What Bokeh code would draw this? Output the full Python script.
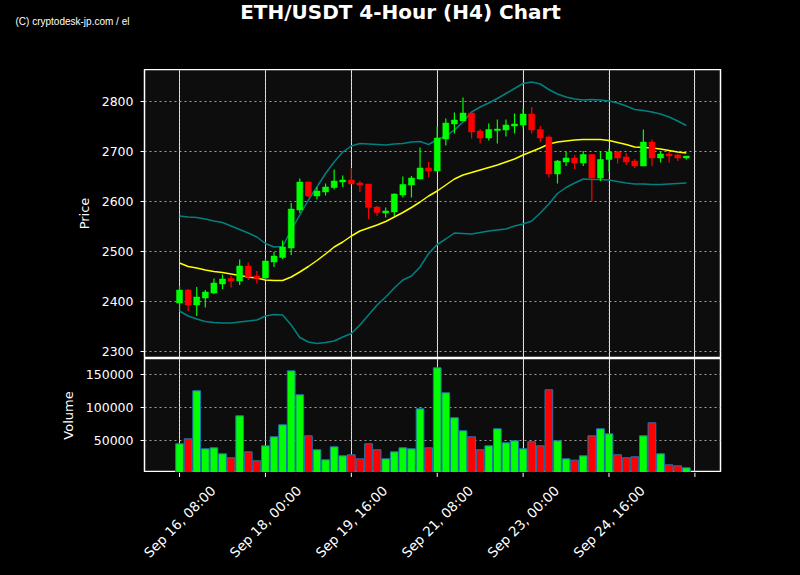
from math import pi
from bokeh.plotting import figure
from bokeh.layouts import column, row
from bokeh.models import Range1d, FixedTicker, Span, Label, NumeralTickFormatter, ColumnDataSource
from bokeh.embed import file_html
from bokeh.resources import INLINE

# ---------------- data ----------------
tick_labels = ["Sep 16, 08:00", "Sep 18, 00:00", "Sep 19, 16:00", "Sep 21, 08:00",
               "Sep 23, 00:00", "Sep 24, 16:00", ""]
tick_idx = [0, 10, 20, 30, 40, 50, 60]

opens = [2397, 2423, 2393, 2407, 2417, 2435, 2446, 2441, 2471, 2451,
         2447, 2479, 2488, 2507, 2583, 2639, 2611, 2619, 2628, 2639,
         2643, 2637, 2635, 2589, 2577, 2579, 2613, 2633, 2645, 2667,
         2661, 2725, 2755, 2761, 2777, 2741, 2727, 2742, 2743, 2751,
         2753, 2775, 2744, 2729, 2655, 2679, 2687, 2677, 2694, 2647,
         2684, 2699, 2689, 2681, 2671, 2719, 2687, 2695, 2693, 2687]
highs = [2431, 2425, 2429, 2423, 2446, 2454, 2451, 2484, 2478, 2461,
         2485, 2499, 2522, 2597, 2646, 2640, 2629, 2636, 2664, 2652,
         2667, 2641, 2635, 2591, 2588, 2616, 2650, 2651, 2708, 2679,
         2750, 2766, 2778, 2808, 2777, 2745, 2756, 2764, 2764, 2776,
         2786, 2789, 2751, 2732, 2683, 2699, 2693, 2701, 2694, 2699,
         2706, 2701, 2697, 2685, 2744, 2724, 2701, 2699, 2695, 2691]
lows = [2383, 2381, 2371, 2388, 2415, 2425, 2428, 2433, 2443, 2436,
        2443, 2469, 2485, 2493, 2577, 2609, 2604, 2612, 2624, 2629,
        2635, 2619, 2565, 2571, 2568, 2571, 2608, 2608, 2644, 2648,
        2659, 2712, 2736, 2761, 2726, 2716, 2722, 2716, 2730, 2736,
        2746, 2736, 2719, 2648, 2636, 2671, 2665, 2671, 2600, 2641,
        2659, 2676, 2673, 2667, 2671, 2671, 2678, 2678, 2681, 2684]
closes = [2423, 2393, 2409, 2419, 2437, 2445, 2441, 2471, 2449, 2446,
          2481, 2491, 2509, 2585, 2639, 2611, 2621, 2629, 2641, 2643,
          2635, 2633, 2588, 2578, 2581, 2615, 2634, 2647, 2667, 2661,
          2727, 2757, 2763, 2777, 2739, 2727, 2744, 2745, 2753, 2755,
          2775, 2743, 2727, 2655, 2681, 2687, 2677, 2694, 2647, 2684,
          2699, 2687, 2679, 2671, 2719, 2687, 2695, 2691, 2687, 2691]
volumes = [45500, 53000, 125800, 37900, 39400, 30300, 24250, 87900, 33300, 19700,
           42400, 56100, 74200, 156000, 119700, 57600, 36400, 21200, 40900, 27300,
           28800, 22700, 45500, 36400, 22700, 33300, 39400, 37900, 98500, 39400,
           160600, 122700, 84900, 65200, 56100, 36400, 42400, 68200, 47000, 50000,
           37900, 48500, 42400, 127300, 50000, 22700, 20700, 27300, 57600, 68200,
           60600, 28800, 24300, 25800, 57600, 77300, 30300, 13600, 12100, 9100]
ma = [2477, 2470, 2467, 2463, 2460, 2458, 2455, 2452, 2449, 2447,
      2443, 2442, 2442, 2449, 2459, 2470, 2482, 2495, 2509, 2519,
      2531, 2541, 2547, 2553, 2560, 2569, 2578, 2588, 2599, 2611,
      2621, 2633, 2645, 2653, 2658, 2663, 2668, 2673, 2679, 2685,
      2693, 2700, 2707, 2715, 2719, 2721, 2723, 2724, 2724, 2724,
      2722, 2718, 2714, 2709, 2708, 2707, 2705, 2702, 2699, 2697]
bb_upper = [2571, 2569, 2568, 2565, 2561, 2558, 2551, 2544, 2537, 2529,
            2516, 2509, 2510, 2543, 2573, 2603, 2629, 2656, 2679, 2699,
            2711, 2716, 2715, 2714, 2713, 2715, 2716, 2719, 2720, 2714,
            2724, 2731, 2743, 2759, 2779, 2789, 2797, 2806, 2816, 2826,
            2836, 2839, 2835, 2824, 2815, 2809, 2805, 2803, 2804, 2803,
            2801, 2797, 2791, 2784, 2782, 2779, 2775, 2769, 2761, 2752]
bb_lower = [2381, 2371, 2365, 2360, 2358, 2357, 2357, 2359, 2361, 2363,
            2371, 2374, 2373, 2353, 2328, 2319, 2316, 2318, 2321, 2329,
            2336, 2353, 2373, 2393, 2409, 2427, 2443, 2451, 2469, 2496,
            2514, 2525, 2537, 2536, 2535, 2538, 2541, 2543, 2545, 2551,
            2555, 2561, 2577, 2595, 2616, 2628, 2637, 2645, 2644, 2644,
            2643, 2640, 2637, 2635, 2635, 2634, 2634, 2635, 2636, 2637]

UP = "#00ff00"
DOWN = "#ff0000"
FONT = "DejaVu Sans"
GRID_COLOR = "#a0a0a0"
GRID_DASH = "2 3"
W = 800
LEFT, RIGHT = 144, 80

xs = list(range(len(opens)))
colors = [UP if c >= o else DOWN for o, c in zip(opens, closes)]
src = ColumnDataSource(dict(
    x=xs, o=opens, h=highs, l=lows, c=closes,
    top=[max(o, c) for o, c in zip(opens, closes)],
    bot=[min(o, c) for o, c in zip(opens, closes)],
    vol=volumes, color=colors, ma=ma, up=bb_upper, lo=bb_lower))

X0, X1 = -4.08, 62.98
xr = Range1d(X0, X1)
ppu = (W - LEFT - RIGHT) / (X1 - X0)          # pixels per candle
xr_full = Range1d(X0 - LEFT / ppu, X1 + RIGHT / ppu)  # same mapping over full width


def style_y(p):
    ax = p.yaxis[0]
    ax.axis_line_color = "white"
    ax.major_tick_line_color = "white"
    ax.major_tick_out = 4
    ax.major_tick_in = 0
    ax.minor_tick_line_color = None
    ax.major_label_text_color = "white"
    ax.major_label_text_font = FONT
    ax.major_label_text_font_size = "12.5px"
    ax.major_label_standoff = 7
    ax.axis_label_text_color = "white"
    ax.axis_label_text_font = FONT
    ax.axis_label_text_font_size = "13px"
    ax.axis_label_text_font_style = "normal"
    ax.axis_label_standoff = 7
    p.ygrid.grid_line_color = GRID_COLOR
    p.ygrid.grid_line_dash = GRID_DASH
    p.ygrid.grid_line_width = 1
    for t in tick_idx:
        p.add_layout(Span(location=t, dimension="height", line_color=GRID_COLOR,
                          line_alpha=0.75, line_dash="1 3", line_width=1, level="underlay"))


def blank(height, x_range, y_range):
    f = figure(width=W, height=height, x_range=x_range, y_range=y_range,
               output_backend="svg", toolbar_location=None,
               x_axis_location=None, y_axis_location=None,
               min_border=0, background_fill_color="black", border_fill_color="black",
               outline_line_color=None)
    f.grid.visible = False
    return f


# ---------------- header (title + watermark), page-pixel coordinates ----------------
head = blank(69, Range1d(0, W), Range1d(69, 0))
head.add_layout(Label(x=400, y=11, text="ETH/USDT 4-Hour (H4) Chart",
                      text_align="center", text_baseline="middle", text_color="white",
                      text_font=FONT, text_font_size="20px", text_font_style="bold"))
head.add_layout(Label(x=15, y=21, text="(C) cryptodesk-jp.com / el",
                      text_align="left", text_baseline="middle", text_color="white",
                      text_font="Liberation Sans", text_font_size="10px"))

# ---------------- price panel ----------------
p1 = figure(width=W, height=289, x_range=xr, y_range=Range1d(2288, 2864),
            output_backend="svg", toolbar_location=None, x_axis_location=None,
            min_border=0, min_border_left=LEFT, min_border_right=RIGHT,
            min_border_top=0, min_border_bottom=1,
            background_fill_color="#0d0d0d", border_fill_color="black",
            outline_line_color="white", outline_line_width=1.5)
p1.yaxis.ticker = FixedTicker(ticks=[2300, 2400, 2500, 2600, 2700, 2800])
p1.yaxis.axis_label = "Price"
style_y(p1)

p1.line("x", "up", source=src, line_color="#008080", line_width=1.5)
p1.line("x", "lo", source=src, line_color="#008080", line_width=1.5)
p1.line("x", "ma", source=src, line_color="#ffff00", line_width=1.5)
p1.segment("x", "l", "x", "h", source=src, line_color="color", line_width=1.2)
p1.vbar(x="x", width=0.7, top="top", bottom="bot", source=src,
        fill_color="color", line_color="color", line_width=0.5)

# ---------------- volume panel ----------------
p2 = figure(width=W, height=114, x_range=xr, y_range=Range1d(2000, 174700),
            output_backend="svg", toolbar_location=None, x_axis_location=None,
            min_border=0, min_border_left=LEFT, min_border_right=RIGHT,
            min_border_top=0, min_border_bottom=0,
            background_fill_color="#0d0d0d", border_fill_color="black",
            outline_line_color="white", outline_line_width=1.5)
p2.yaxis.ticker = FixedTicker(ticks=[50000, 100000, 150000])
p2.yaxis.formatter = NumeralTickFormatter(format="0")
p2.yaxis.axis_label = "Volume"
style_y(p2)

p2.vbar(x="x", width=0.9, top="vol", bottom=0, source=src,
        fill_color="color", line_color="#1f77b4", line_width=1)

# ---------------- footer: x ticks and rotated date labels, page-pixel y ----------------
foot = blank(575 - 69 - 289 - 114, xr_full, Range1d(575, 472))
foot.segment(x0=tick_idx, y0=[472] * len(tick_idx), x1=tick_idx, y1=[476.5] * len(tick_idx),
             line_color="white", line_width=1)
for t, lbl in zip(tick_idx, tick_labels):
    if lbl:
        foot.add_layout(Label(x=t, y=521, text=lbl, angle=pi / 4,
                              text_align="center", text_baseline="middle",
                              text_color="white", text_font=FONT, text_font_size="13.5px"))

layout = column(row(head), p1, p2, row(foot), spacing=0)
html = file_html(layout, INLINE)
html = html.replace("</head>",
                    "<style>html,body{background:#000000;margin:0;padding:0;overflow:hidden;}</style></head>", 1)
open("out.html", "w").write(html)
